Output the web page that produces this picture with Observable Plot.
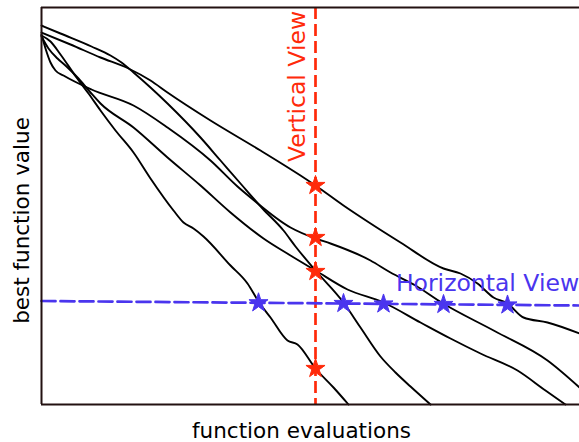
<!DOCTYPE html>
<html><head><meta charset="utf-8">
<script src="https://cdn.jsdelivr.net/npm/d3@7"></script>
<script src="https://cdn.jsdelivr.net/npm/@observablehq/plot@0.6"></script>
<style>body{margin:0;background:#fff} svg{display:block}</style>
</head><body><div id="chart"></div>
<script>
// runs: [function evaluations, best function value]
const runA = [[0,372],[29,360],[59,347],[87,336],[109,324],[126,312],[169,284],[219,254],[259,229],[274,219],[302,199],[326,183],[359,162],[402,136],[419,131],[436,121],[452,107],[466,101],[482,87],[506,82],[538,71]];
const runB = [[0,379],[19,371],[50,358],[69,349],[80,342],[92,332],[109,317],[126,301],[159,267],[179,244],[199,221],[221,196],[242,174],[254,158],[274,134],[302,102],[319,77],[339,48],[354,32],[369,18],[389,0]];
const runC = [[0,370],[4,356],[9,342],[14,334],[22,329],[50,315],[92,299],[126,277],[169,244],[196,218],[209,207],[249,177],[274,166],[289,161],[329,144],[349,132],[374,119],[400,102],[454,73],[506,44],[538,17]];
const runD = [[0,368],[7,356],[16,346],[25,338],[37,326],[49,312],[59,301],[92,277],[126,247],[159,219],[189,192],[222,166],[249,149],[274,134],[306,115],[342,102],[379,82],[409,66],[439,51],[476,34],[504,14],[524,0]];
const runE = [[0,369],[9,363],[19,350],[35,327],[47,311],[59,294],[74,274],[92,252],[109,226],[132,194],[142,182],[152,176],[162,168],[189,139],[206,121],[217,103],[229,87],[246,64],[256,60],[274,36],[292,17],[307,0]];

const verticalViewEval = 274;
const verticalStarValues = [219, 167, 133, 36];
const horizontalLine = [[0,103.5],[538,99]];
const horizontalStarEvals = [217, 302, 342, 402, 466];
const horizontalStarValues = [101.7, 101, 100.5, 100, 99.5];

const labels = {x: "function evaluations", y: "best function value", v: "Vertical View", h: "Horizontal View"};

const red = "#ff2a0a", blue = "#4a35ee", spine = "#221111";

const runs = {A: runA, B: runB, C: runC, D: runD, E: runE};
const rows = Object.entries(runs).flatMap(([run, pts]) => pts.map(([x, y]) => ({run, x, y})));
const hRows = horizontalLine.map(([x, y]) => ({x, y}));
const vStars = verticalStarValues.map(y => ({x: verticalViewEval, y}));
const hStars = horizontalStarEvals.map((x, i) => ({x, y: horizontalStarValues[i]}));

const chart = Plot.plot({
  width: 579, height: 442,
  marginLeft: 41, marginRight: 0, marginTop: 7, marginBottom: 38,
  x: {domain: [0, 538], axis: null},
  y: {domain: [0, 397], axis: null},
  style: {fontFamily: "DejaVu Sans", background: "#fff", overflow: "visible"},
  marks: [
    Plot.line(rows, {x: "x", y: "y", z: "run", stroke: "black", strokeWidth: 1.9, curve: "monotone-x"}),
    Plot.ruleX([verticalViewEval], {stroke: red, strokeWidth: 2.7, strokeDasharray: "12,5"}),
    Plot.line(hRows, {x: "x", y: "y", stroke: blue, strokeWidth: 2.7, strokeDasharray: "14,5"}),
    Plot.dot(vStars, {x: "x", y: "y", symbol: "star", r: 6, fill: red, stroke: red, strokeWidth: 1}),
    Plot.dot(hStars, {x: "x", y: "y", symbol: "star", r: 6, fill: blue, stroke: blue, strokeWidth: 1}),
    Plot.ruleX([0], {stroke: spine, strokeWidth: 2}),
    Plot.ruleY([0], {stroke: spine, strokeWidth: 2}),
    Plot.ruleY([397], {stroke: spine, strokeWidth: 2}),
    Plot.text([labels.v], {x: 256, y: 318, text: d => d, rotate: -90, fill: red, fontSize: 23.5}),
    Plot.text([labels.h], {x: 446, y: 121, text: d => d, fill: blue, fontSize: 23.5}),
    Plot.text([labels.x], {x: 260, y: -27, text: d => d, fill: "black", fontSize: 21.5}),
    Plot.text([labels.y], {x: -19, y: 184, text: d => d, rotate: -90, fill: "black", fontSize: 21.5})
  ]
});
document.getElementById("chart").appendChild(chart);
</script>
</body></html>
